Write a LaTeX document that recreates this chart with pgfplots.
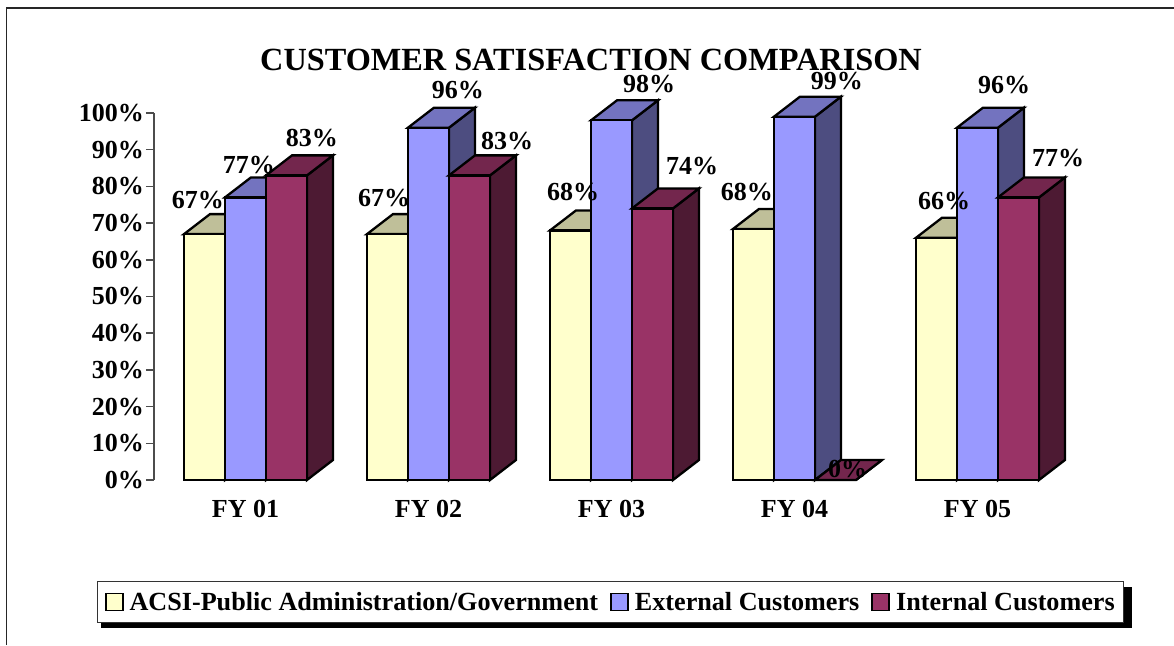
\documentclass[border=0pt]{standalone}
\usepackage{fontspec}
\setmainfont{Liberation Serif}
\usepackage{pgfplots}
\pgfplotsset{compat=1.18}
\definecolor{ya}{HTML}{FFFFCC}\definecolor{yt}{HTML}{BFBF99}\definecolor{ys}{HTML}{808066}
\definecolor{ba}{HTML}{9999FF}\definecolor{bt}{HTML}{7373BF}\definecolor{bs}{HTML}{4D4D80}
\definecolor{ma}{HTML}{993366}\definecolor{mt}{HTML}{73264D}\definecolor{ms}{HTML}{4D1A33}
\newcommand\lf{\fontsize{26}{29}\selectfont\bfseries}
% depth of the 3-D bars in axis units
\def\ddx{0.142}\def\ddy{5.45}\def\bw{0.224}
\newcommand\facets[5]{% category, shift, value, top colour, side colour
  \pgfmathsetmacro\xl{#1+#2-\bw/2}
  \pgfmathsetmacro\xr{#1+#2+\bw/2}
  \pgfmathsetmacro\xlb{\xl+\ddx}
  \pgfmathsetmacro\xrb{\xr+\ddx}
  \pgfmathsetmacro\yb{#3+\ddy}
  \addplot[forget plot,fill=#5,draw=black,line width=2.3pt,line join=miter] coordinates {(\xr,0) (\xrb,\ddy) (\xrb,\yb) (\xr,#3)} --cycle;
  \addplot[forget plot,fill=#4,draw=black,line width=2.3pt,line join=miter] coordinates {(\xl,#3) (\xlb,\yb) (\xrb,\yb) (\xr,#3)} --cycle;
}
\newcommand\series[9]{% shift, 5 values, top, side, front
  \facets{0}{#1}{#2}{#7}{#8}\facets{1}{#1}{#3}{#7}{#8}\facets{2}{#1}{#4}{#7}{#8}\facets{3}{#1}{#5}{#7}{#8}\facets{4}{#1}{#6}{#7}{#8}
  \addplot[ybar,bar width=\bw,bar shift=#1,fill=#9,draw=black,line width=2.3pt,line join=miter]
    coordinates {(0,#2) (1,#3) (2,#4) (3,#5) (4,#6)};
}
\begin{document}
\begin{tikzpicture}[x=1pt,y=1pt]
\path[use as bounding box] (0,0) rectangle (1174,645);
\draw[black!85,line width=1.8pt] (6.5,0) -- (6.5,637) -- (1174,637);
\fill[black] (101,17) rectangle (1132,58);
\begin{axis}[
  at={(154pt,165pt)},anchor=south west,
  scale only axis,width=915pt,height=367pt,
  xmin=-0.5,xmax=4.5,ymin=0,ymax=100,
  clip=false,
  axis y line=left,axis x line=bottom,
  axis line style={-},
  x axis line style={draw=none},
  y axis line style={black!70,line width=1.5pt},
  xtick={0,1,2,3,4},
  xticklabels={FY 01,FY 02,FY 03,FY 04,FY 05},
  x tick style={draw=none},
  x tick label style={font=\lf,yshift=-9pt},
  ytick={0,10,...,100},
  y tick style={black!70,line width=1.5pt},
  tick align=outside,major tick length=8pt,
  yticklabel={\pgfmathprintnumber{\tick}\%},
  y tick label style={font=\lf,/pgf/number format/assume math mode=true,inner sep=1pt,xshift=-1pt},
  title={CUSTOMER SATISFACTION COMPARISON},
  title style={font=\fontsize{32.3}{35}\selectfont\bfseries,at={(0.4776,1.128)},anchor=center,inner sep=0pt},
  legend columns=3,
  legend cell align=left,
  legend style={at={(0.4992,-0.3324)},anchor=center,draw=black!80,fill=white,line width=1.2pt,
    font=\fontsize{26.15}{29}\selectfont\bfseries,
    inner xsep=7pt,inner ysep=9pt,
    /tikz/every odd column/.append style={column sep=4pt},
    /tikz/every even column/.append style={column sep=10pt}},
  legend image code/.code={\draw[#1,line width=1.8pt] (0pt,-8.5pt) rectangle (17pt,8.5pt);},
]
\series{-\bw}{67}{67}{68}{68.4}{66}{yt}{ys}{ya}
\addlegendentry{ACSI-Public Administration/Government}
\series{0}{77}{96}{98}{99}{96}{bt}{bs}{ba}
\addlegendentry{External Customers}
\series{\bw}{83}{83}{74}{0}{77}{mt}{ms}{ma}
\addlegendentry{Internal Customers}
\addplot[forget plot,draw=none,mark=none,
  nodes near coords={\pgfplotspointmeta\%},
  point meta=explicit symbolic,
  every node near coord/.style={anchor=center,font=\lf,inner sep=0pt,text=black}]
  table[x=x,y=y,meta=v] {
x y v
-0.260 76.3 67
0.019 85.8 77
0.363 93.2 83
0.757 76.8 67
1.161 106.3 96
1.429 92.4 83
1.790 78.5 68
2.205 107.9 98
2.440 85.6 74
2.740 78.5 68
3.232 108.7 99
3.290 3.0 0
3.817 76.0 66
4.145 107.6 96
4.440 87.7 77
};
\end{axis}
\end{tikzpicture}
\end{document}
